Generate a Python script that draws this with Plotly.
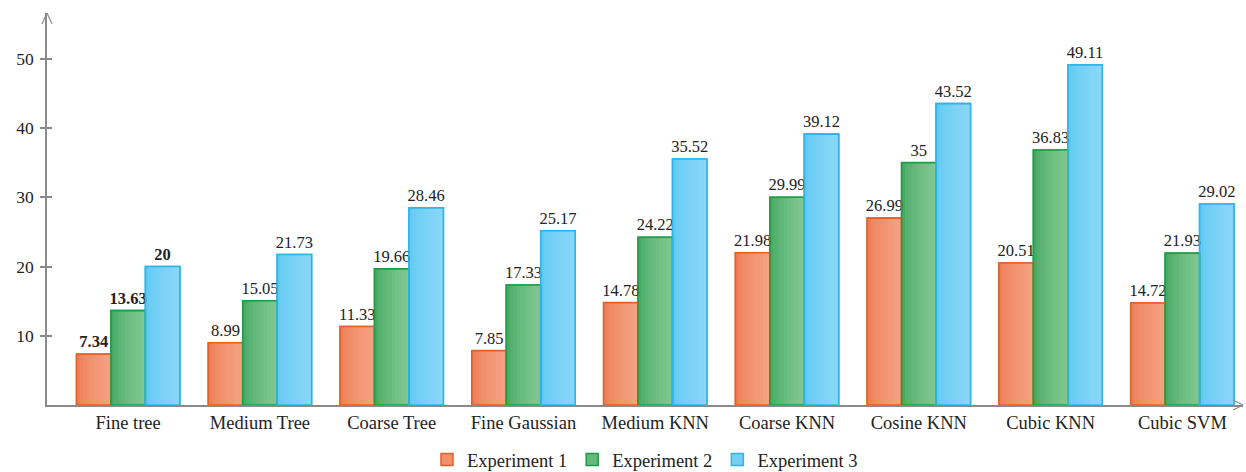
import plotly.graph_objects as go

# Classifier names and the three experiment series
categories = ["Fine tree", "Medium Tree", "Coarse Tree", "Fine Gaussian", "Medium KNN",
              "Coarse KNN", "Cosine KNN", "Cubic KNN", "Cubic SVM"]
exp1 = [7.34, 8.99, 11.33, 7.85, 14.78, 21.98, 26.99, 20.51, 14.72]
exp2 = [13.63, 15.05, 19.66, 17.33, 24.22, 29.99, 35, 36.83, 21.93]
exp3 = [20, 21.73, 28.46, 25.17, 35.52, 39.12, 43.52, 49.11, 29.02]
series_names = ["Experiment 1", "Experiment 2", "Experiment 3"]
y_ticks = [10, 20, 30, 40, 50]

W, H = 1246, 472
ML, MR, MT, MB = 47, 3, 13, 67
PW, PH = W - ML - MR, H - MT - MB

FONT = "Liberation Serif, Times New Roman, serif"
FS_VAL = 16.5
FS_CAT = 18.5
AXIS_COLOR = "#8a8a8a"

# (left colour, right colour, border colour) for each series
palettes = [
    ((238, 126, 88), (244, 162, 130), "#e0622a"),
    ((72, 170, 100), (128, 200, 146), "#1f9d44"),
    ((98, 202, 242), (138, 215, 248), "#2fb4e6"),
]

group_w = 0.784
bar_w = group_w / 3
n_slices = 10

x_range = [-0.616, 8.46]
y_range = [0, PH / 6.925]

fig = go.Figure()

def mix(a, b, t):
    return "rgb(%d,%d,%d)" % tuple(round(a[i] + (b[i] - a[i]) * t) for i in range(3))

all_series = [exp1, exp2, exp3]

# filled bars with a left-to-right colour gradient
for k, vals in enumerate(all_series):
    left, right, border = palettes[k]
    off = -group_w / 2 + k * bar_w
    fig.add_trace(go.Bar(
        x=categories, y=vals, name=series_names[k], width=bar_w, offset=off,
        marker=dict(color=mix(left, right, 0.5), line=dict(color=border, width=1.5)),
        showlegend=True, hoverinfo="skip",
    ))
    sw = bar_w / n_slices
    for j in range(n_slices):
        fig.add_trace(go.Bar(
            x=categories, y=vals, width=sw * 1.05, offset=off + j * sw,
            marker=dict(color=mix(left, right, (j / (n_slices - 1)) ** 0.7), line=dict(width=0)),
            showlegend=False, hoverinfo="skip",
        ))

# outlines and value labels on top of every fill
for k, vals in enumerate(all_series):
    border = palettes[k][2]
    off = -group_w / 2 + k * bar_w
    labels = [("<b>%g</b>" % v) if i == 0 else ("%g" % v) for i, v in enumerate(vals)]
    fig.add_trace(go.Bar(
        x=categories, y=vals, width=bar_w, offset=off,
        marker=dict(color="rgba(0,0,0,0)", line=dict(color=border, width=1.6)),
        text=labels, textposition="outside", cliponaxis=False, constraintext="none",
        textfont=dict(family=FONT, size=FS_VAL, color="#222"),
        showlegend=False, hoverinfo="skip",
    ))

# axis arrowheads (open chevrons), in paper coordinates
def px_x(p):
    return (p - ML) / PW

def px_y(p):
    return (H - MB - p) / PH

shapes = []
for (x0, y0), (x1, y1) in [((42, 24), (47, 13)), ((52, 24), (47, 13)),
                           ((1233, 400), (1243, 405)), ((1233, 410), (1243, 405))]:
    shapes.append(dict(type="line", xref="paper", yref="paper",
                       x0=px_x(x0), y0=px_y(y0), x1=px_x(x1), y1=px_y(y1),
                       line=dict(color=AXIS_COLOR, width=1.2)))

fig.update_layout(
    width=W, height=H,
    margin=dict(l=ML, r=MR, t=MT, b=MB, autoexpand=False),
    barmode="overlay",
    plot_bgcolor="white", paper_bgcolor="white",
    font=dict(family=FONT, size=FS_CAT, color="#222"),
    shapes=shapes,
    legend=dict(orientation="h", xanchor="center", x=0.5, yref="container",
                yanchor="top", y=(H - 441) / H,
                font=dict(family=FONT, size=FS_CAT, color="#222"),
                traceorder="normal", itemclick=False),
    xaxis=dict(range=x_range, showline=True, linecolor=AXIS_COLOR, linewidth=1.5,
               ticks="", showgrid=False, zeroline=False,
               tickfont=dict(family=FONT, size=FS_CAT, color="#222")),
    yaxis=dict(range=y_range, showline=True, linecolor=AXIS_COLOR, linewidth=1.5,
               tickvals=y_ticks, ticks="outside", ticklen=5, tickcolor=AXIS_COLOR,
               tickwidth=1.5, showgrid=False, zeroline=False, ticklabelstandoff=3,
               tickfont=dict(family=FONT, size=17.5, color="#222")),
    yaxis2=dict(range=y_range, overlaying="y", side="left", tickvals=y_ticks,
                ticks="inside", ticklen=5, tickcolor=AXIS_COLOR, tickwidth=1.5,
                showticklabels=False, showgrid=False, zeroline=False, showline=False),
)

# invisible trace so the overlay axis with inward ticks is drawn
fig.add_trace(go.Scatter(x=[categories[0]], y=[0], yaxis="y2", mode="markers",
                         marker=dict(opacity=0), showlegend=False, hoverinfo="skip"))

fig.write_html("out.html")
